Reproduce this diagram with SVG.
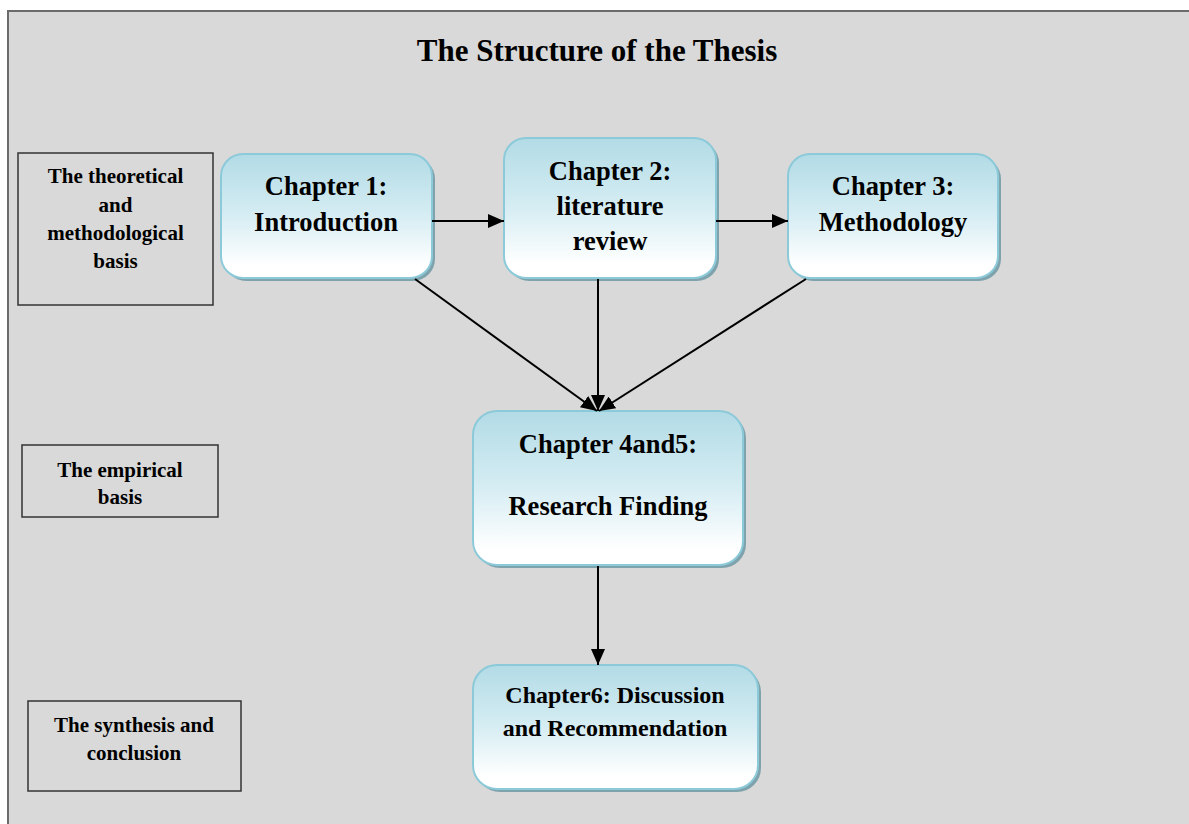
<svg xmlns="http://www.w3.org/2000/svg" width="1189" height="824" viewBox="0 0 1189 824">
<defs>
<linearGradient id="g" x1="0" y1="0" x2="0" y2="1">
<stop offset="0" stop-color="#b2dbe6"/>
<stop offset="0.5" stop-color="#d6edf3"/>
<stop offset="0.9" stop-color="#ffffff"/>
<stop offset="1" stop-color="#ffffff"/>
</linearGradient>
<marker id="ah" viewBox="0 0 16 14" refX="16" refY="7" markerWidth="16" markerHeight="14" markerUnits="userSpaceOnUse" orient="auto">
<path d="M0,0 L16,7 L0,14 Z" fill="#000"/>
</marker>
<style>
.frame{fill:#d9d9d9;stroke:#6b6b6b;stroke-width:2}
.lbl{fill:none;stroke:#333;stroke-width:1.5}
.shadow{fill:#7fa3ad}
.ch{fill:url(#g);stroke:#8ccad9;stroke-width:2}
.t{font-family:"Liberation Serif","Times New Roman",serif;font-weight:bold;fill:#000;text-anchor:middle}
.title{font-size:31px}
.s{font-size:21px}
.c{font-size:26.5px}
.c6{font-size:24px}
.con line{stroke:#000;stroke-width:2;marker-end:url(#ah)}
</style>
</defs>
<rect class="frame" x="8" y="11" width="1200" height="830"/>
<text class="t title" x="597" y="61">The Structure of the Thesis</text>

<g id="label-theoretical">
<rect class="lbl" x="18" y="153" width="195" height="152"/>
<text class="t s" x="115.5" y="183">The theoretical</text>
<text class="t s" x="115.5" y="212">and</text>
<text class="t s" x="115.5" y="240">methodological</text>
<text class="t s" x="115.5" y="268">basis</text>
</g>
<g id="label-empirical">
<rect class="lbl" x="22" y="445" width="196" height="72"/>
<text class="t s" x="120" y="477">The empirical</text>
<text class="t s" x="120" y="504">basis</text>
</g>
<g id="label-synthesis">
<rect class="lbl" x="28" y="701" width="213" height="90"/>
<text class="t s" x="134" y="732">The synthesis and</text>
<text class="t s" x="134" y="760">conclusion</text>
</g>

<g id="ch1">
<rect class="shadow" x="224" y="157" width="211" height="124" rx="22"/>
<rect class="ch" x="221" y="154" width="211" height="124" rx="22"/>
<text class="t c" x="326" y="195">Chapter 1:</text>
<text class="t c" x="326" y="231">Introduction</text>
</g>
<g id="ch2">
<rect class="shadow" x="507" y="141" width="212" height="140" rx="22"/>
<rect class="ch" x="504" y="138" width="212" height="140" rx="22"/>
<text class="t c" x="610" y="180">Chapter 2:</text>
<text class="t c" x="610" y="215">literature</text>
<text class="t c" x="610" y="250">review</text>
</g>
<g id="ch3">
<rect class="shadow" x="791" y="157" width="210" height="124" rx="22"/>
<rect class="ch" x="788" y="154" width="210" height="124" rx="22"/>
<text class="t c" x="893" y="195">Chapter 3:</text>
<text class="t c" x="893" y="231">Methodology</text>
</g>
<g id="ch45">
<rect class="shadow" x="476" y="414" width="270" height="154" rx="24"/>
<rect class="ch" x="473" y="411" width="270" height="154" rx="24"/>
<text class="t c" x="608" y="453">Chapter 4and5:</text>
<text class="t c" x="608" y="515">Research Finding</text>
</g>
<g id="ch6">
<rect class="shadow" x="476" y="668" width="285" height="124" rx="24"/>
<rect class="ch" x="473" y="665" width="285" height="124" rx="24"/>
<text class="t c6" x="615" y="703">Chapter6: Discussion</text>
<text class="t c6" x="615" y="736">and Recommendation</text>
</g>

<g id="connectors" class="con">
<line x1="432" y1="221" x2="504" y2="221"/>
<line x1="716" y1="221" x2="788" y2="221"/>
<line x1="415" y1="279" x2="597" y2="411"/>
<line x1="598" y1="279" x2="598" y2="411"/>
<line x1="806" y1="279" x2="599" y2="411"/>
<line x1="598" y1="566" x2="598" y2="665"/>
</g>
</svg>
